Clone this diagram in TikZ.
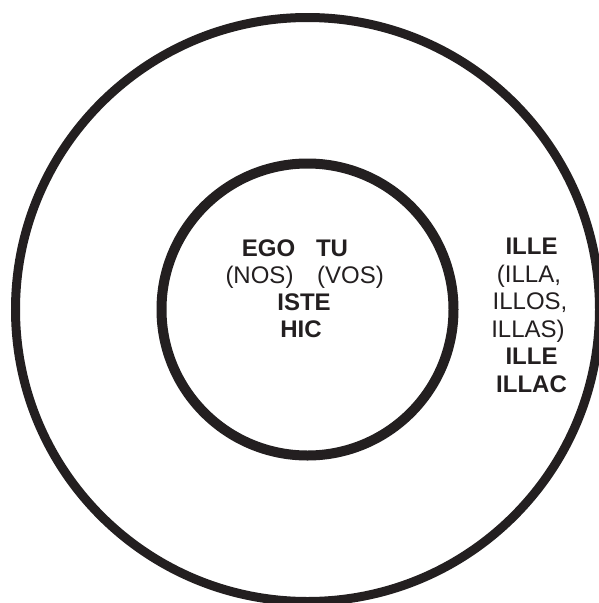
\documentclass[tikz,border=0pt]{standalone}
\usepackage{fontspec}
\setmainfont{Liberation Sans}
\definecolor{ink}{HTML}{231F20}
\begin{document}
\begin{tikzpicture}[x=1pt,y=-1pt,
  ring/.style={draw=ink},
  bw/.style={text=ink,inner sep=0pt,anchor=base,font=\fontsize{24}{27.5}\selectfont\bfseries},
  rw/.style={text=ink,inner sep=0pt,anchor=base,font=\fontsize{24}{27.5}\selectfont}]
\useasboundingbox (0,0) rectangle (599,603);
\fill[white] (0,0) rectangle (599,603);
\coordinate (c) at (307.5,309.5);
\draw[ring,line width=9pt] (c) circle[radius=292pt];
\draw[ring,line width=10pt] (c) circle[radius=146pt];
\node[bw] (ego) at (268.5,256.5) {EGO};
\node[bw] (tu) at (332,256.5) {TU};
\node[rw] (nos) at (259.5,283.5) {(NOS)};
\node[rw] (vos) at (350.5,283.5) {(VOS)};
\node[bw] (iste) at (304,310) {ISTE};
\node[bw] (hic) at (301,337) {HIC};
\node[bw] (ille) at (531.5,254.5) {ILLE};
\node[rw] (illa) at (529,282) {(ILLA,};
\node[rw] (illos) at (530,309.5) {ILLOS,};
\node[rw] (illas) at (528,337) {ILLAS)};
\node[bw] (ille2) at (531.5,364.5) {ILLE};
\node[bw] (illac) at (531.5,392) {ILLAC};
\end{tikzpicture}
\end{document}
